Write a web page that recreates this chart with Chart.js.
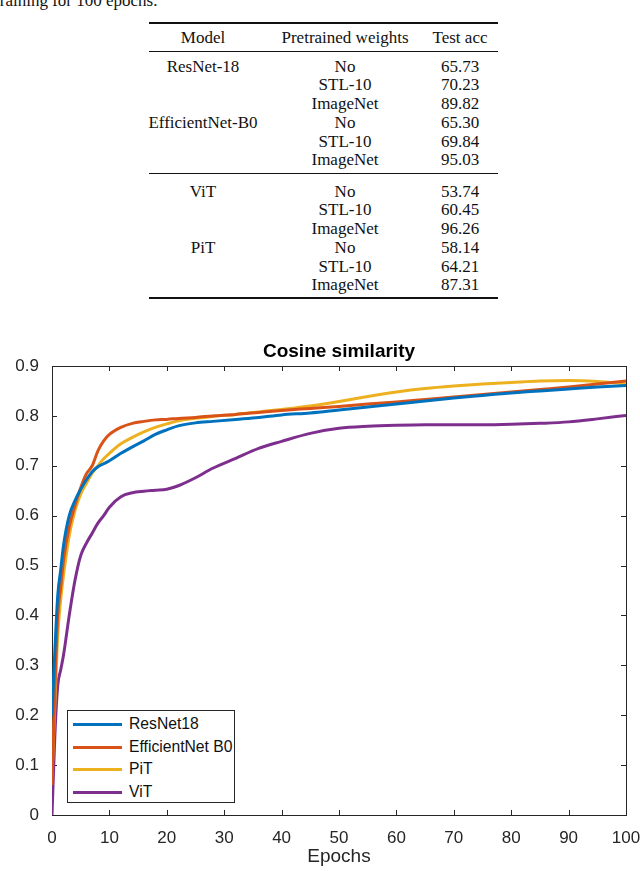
<!DOCTYPE html>
<html>
<head>
<meta charset="utf-8">
<script src="https://cdn.jsdelivr.net/npm/chart.js@4"></script>
<style>
  body { margin: 0; background: #fff; width: 640px; height: 871px; position: relative; overflow: hidden; }
  .serif { font-family: "Liberation Serif", "Times New Roman", serif; font-size: 17px; color: #111; position: absolute; white-space: nowrap; line-height: 17px; }
  .rule { position: absolute; left: 149px; width: 349px; background: #111; }
  .cell { transform: translate(-50%, -50%); }
  #chartBox { position: absolute; left: 0; top: 330px; width: 640px; height: 541px; }
  #chartTitle { position: absolute; left: 339px; top: 351px; transform: translate(-50%, -50%); font-family: "Liberation Sans", Arial, sans-serif;
                font-weight: bold; font-size: 19px; color: #000; white-space: nowrap; }
  #legend { position: absolute; left: 67px; top: 710px; width: 166px; height: 91px; border: 1px solid #262626; background: #fff; z-index: 2;
            font-family: "Liberation Sans", Arial, sans-serif; font-size: 15.7px; color: #111; }
  .item { position: absolute; left: 5px; height: 20px; line-height: 20px; }
  .item span.sw { display: inline-block; width: 49px; height: 3px; vertical-align: middle; margin-right: 7px; }
</style>
</head>
<body>
<div class="serif" style="left:-5px; top:-8px;">training for 100 epochs.</div>
<div id="table"></div>
<div id="chartBox"><canvas id="myChart"></canvas></div>
<div id="chartTitle">Cosine similarity</div>
<div id="legend"></div>

<script>
// table data
let tableHead = ["Model", "Pretrained weights", "Test acc"];
let cnnModels = ["ResNet-18", "", "", "EfficientNet-B0", "", ""];
let vitModels = ["ViT", "", "", "PiT", "", ""];
let weights = ["No", "STL-10", "ImageNet", "No", "STL-10", "ImageNet"];
let cnnAcc = ["65.73", "70.23", "89.82", "65.30", "69.84", "95.03"];
let vitAcc = ["53.74", "60.45", "96.26", "58.14", "64.21", "87.31"];

// chart data (cosine similarity vs epochs)
let epochs = [0, 0.5, 1, 1.5, 2, 3, 4, 5, 6, 7, 8, 9, 10, 12, 14, 16, 18, 20, 22, 25, 28, 32, 36, 40, 45, 50, 55, 60, 65, 70, 75, 80, 85, 90, 95, 100];
let resnet18 = [0.20, 0.33, 0.44, 0.49, 0.54, 0.60, 0.63, 0.653, 0.672, 0.688, 0.698, 0.704, 0.71, 0.725, 0.738, 0.75, 0.763, 0.772, 0.78, 0.786, 0.789, 0.793, 0.797, 0.802, 0.806, 0.812, 0.818, 0.824, 0.83, 0.836, 0.841, 0.846, 0.85, 0.854, 0.858, 0.861];
let efficientB0 = [0.06, 0.25, 0.40, 0.455, 0.51, 0.578, 0.62, 0.656, 0.684, 0.70, 0.73, 0.75, 0.763, 0.777, 0.785, 0.789, 0.792, 0.793, 0.795, 0.797, 0.80, 0.803, 0.807, 0.811, 0.815, 0.819, 0.824, 0.828, 0.833, 0.838, 0.843, 0.848, 0.853, 0.858, 0.864, 0.870];
let pit = [0.08, 0.22, 0.36, 0.43, 0.48, 0.56, 0.61, 0.643, 0.665, 0.685, 0.70, 0.714, 0.725, 0.744, 0.757, 0.768, 0.777, 0.784, 0.79, 0.795, 0.799, 0.803, 0.808, 0.813, 0.82, 0.829, 0.839, 0.848, 0.855, 0.86, 0.864, 0.867, 0.87, 0.871, 0.869, 0.864];
let vit = [0, 0.16, 0.26, 0.29, 0.32, 0.40, 0.47, 0.52, 0.545, 0.565, 0.585, 0.60, 0.617, 0.638, 0.646, 0.649, 0.651, 0.653, 0.66, 0.676, 0.695, 0.715, 0.735, 0.749, 0.765, 0.775, 0.779, 0.781, 0.782, 0.782, 0.782, 0.783, 0.785, 0.788, 0.794, 0.801];
let seriesNames = ["ResNet18", "EfficientNet B0", "PiT", "ViT"];
let seriesColors = ["#0072BD", "#D95319", "#EDB120", "#7E2F8E"];

//builds the table
function buildTable() {
  let colX = [203, 345, 460];
  let html = "";
  html += `<div class="rule" style="top:22px;height:1.6px"></div>`;
  html += `<div class="rule" style="top:51px;height:1px"></div>`;
  html += `<div class="rule" style="top:173px;height:1px"></div>`;
  html += `<div class="rule" style="top:297px;height:1.6px"></div>`;
  tableHead.forEach((t, i) => {
    html += `<div class="serif cell" style="left:${colX[i]}px;top:37px">${t}</div>`;
  });
  let groups = [[cnnModels, cnnAcc, 65.7], [vitModels, vitAcc, 190.7]];
  groups.forEach(g => {
    for (let r = 0; r < 6; r++) {
      let y = g[2] + r * 18.7;
      let row = [g[0][r], weights[r], g[1][r]];
      row.forEach((t, i) => {
        if (t) html += `<div class="serif cell" style="left:${colX[i]}px;top:${y}px">${t}</div>`;
      });
    }
  });
  document.getElementById("table").innerHTML = html;
}

//builds the legend box
function buildLegend() {
  let html = "";
  seriesNames.forEach((n, i) => {
    html += `<div class="item" style="top:${3 + i * 22.5}px"><span class="sw" style="background:${seriesColors[i]}"></span>${n}</div>`;
  });
  document.getElementById("legend").innerHTML = html;
}

//draws the matlab style box with inward ticks
const axesBox = {
  id: "axesBox",
  beforeDatasetsDraw(chart) {
    const ctx = chart.ctx;
    const a = chart.chartArea;
    const xs = chart.scales.x;
    const ys = chart.scales.y;
    ctx.save();
    ctx.strokeStyle = "#262626";
    ctx.lineWidth = 1;
    ctx.strokeRect(Math.round(a.left) + 0.5, Math.round(a.top) + 0.5, Math.round(a.right - a.left), Math.round(a.bottom - a.top));
    ctx.beginPath();
    xs.ticks.forEach(t => {
      let px = Math.round(xs.getPixelForValue(t.value)) + 0.5;
      ctx.moveTo(px, a.bottom); ctx.lineTo(px, a.bottom - 5);
      ctx.moveTo(px, a.top); ctx.lineTo(px, a.top + 5);
    });
    ys.ticks.forEach(t => {
      let py = Math.round(ys.getPixelForValue(t.value)) + 0.5;
      ctx.moveTo(a.left, py); ctx.lineTo(a.left + 5, py);
      ctx.moveTo(a.right, py); ctx.lineTo(a.right - 5, py);
    });
    ctx.stroke();
    ctx.restore();
  }
};

function makeSet(i, vals) {
  return {
    label: seriesNames[i],
    data: epochs.map((e, k) => ({ x: e, y: vals[k] })),
    borderColor: seriesColors[i],
    borderWidth: 3,
    pointRadius: 0,
    cubicInterpolationMode: "monotone",
    fill: false
  };
}

buildTable();
buildLegend();

let myChart = document.getElementById("myChart").getContext("2d");
let chart = new Chart(myChart, {
  type: "line",
  data: {
    datasets: [makeSet(0, resnet18), makeSet(1, efficientB0), makeSet(2, pit), makeSet(3, vit)]
  },
  options: {
    responsive: true,
    maintainAspectRatio: false,
    animation: false,
    layout: { padding: { left: 0, right: 0, top: 36, bottom: 0 } },
    plugins: {
      legend: { display: false },
      tooltip: { enabled: false },
      title: { display: false }
    },
    scales: {
      x: {
        type: "linear",
        min: 0,
        max: 100,
        grid: { display: false },
        border: { display: false },
        ticks: { stepSize: 10, color: "#262626", padding: 5, maxRotation: 0, font: { family: "Liberation Sans", size: 17 } },
        title: { display: true, text: "Epochs", color: "#262626", font: { family: "Liberation Sans", size: 19 }, padding: { top: 2, bottom: 3 } },
        afterFit: s => { s.height = 56; s.paddingRight = 14; s.paddingLeft = 0; }
      },
      y: {
        min: 0,
        max: 0.9,
        grid: { display: false },
        border: { display: false },
        ticks: {
          stepSize: 0.1,
          color: "#262626",
          padding: 5,
          font: { family: "Liberation Sans", size: 17 },
          callback: v => (Math.abs(v) < 1e-9 ? "0" : v.toFixed(1))
        },
        afterFit: s => { s.width = 52; }
      }
    }
  },
  plugins: [axesBox]
});
</script>
</body>
</html>
